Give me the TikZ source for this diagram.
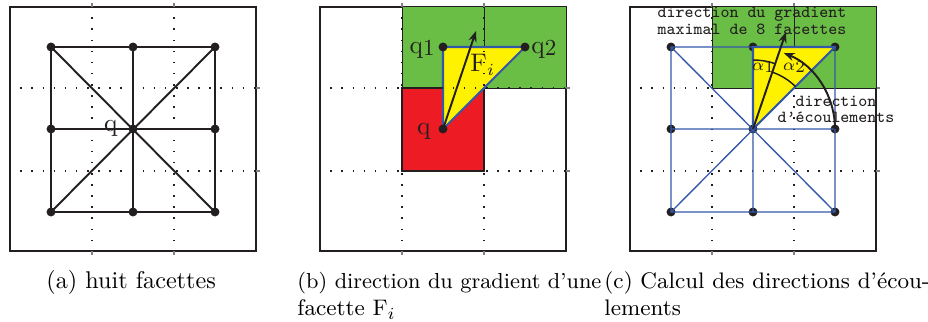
\documentclass[tikz,border=0pt]{standalone}
\usetikzlibrary{arrows.meta}
\definecolor{ink}{RGB}{35,31,32}
\definecolor{fgreen}{RGB}{106,189,69}
\definecolor{fred}{RGB}{237,28,36}
\definecolor{fyellow}{RGB}{255,242,0}
\definecolor{fblue}{RGB}{52,88,168}
\begin{document}
\begin{tikzpicture}[x=0.4137pt,y=-0.4137pt,
  frame/.style={draw=ink,line width=0.9pt},
  dotline/.style={draw=ink,line width=0.65pt,dash pattern=on 0.65pt off 3.95pt,dash phase=0.33pt},
  tick/.style={draw=gray,line width=0.5pt},
  grid/.style={draw=ink,line width=0.8pt},
  bgrid/.style={draw=fblue,line width=0.55pt},
  btri/.style={draw=fblue,line width=0.85pt,line join=round},
  gbox/.style={draw=ink,line width=0.4pt,fill=fgreen},
  rbox/.style={draw=ink,line width=0.9pt,fill=fred},
  pt/.style={circle,fill=ink,inner sep=0pt,minimum size=3.7pt},
  arr/.style={draw=ink,line width=0.8pt,-{Stealth[length=4.5pt,width=3.4pt]}},
  arcl/.style={draw=ink,line width=0.6pt},
  lab/.style={font=\fontsize{10.5}{12}\selectfont,inner sep=0pt,text=ink},
  alab/.style={font=\fontsize{7}{8}\selectfont,inner sep=0pt,text=ink},
  tt/.style={font=\ttfamily\fontsize{7}{#1}\selectfont,text=ink,align=center,inner sep=0pt},
  captext/.style={font=\fontsize{9.3}{11}\selectfont,anchor=base west,inner sep=0pt},
]
\useasboundingbox (0,0) rectangle (928,322);
\fill[white] (0,0) rectangle (928,322);

\foreach \i/\x in {0/51,1/133,2/215}{\foreach \j/\y in {0/47,1/129,2/212}{
  \coordinate (a\i\j) at (\x,\y);
  \coordinate (b\i\j) at (\x+310,\y);
  \coordinate (c\i\j) at (\x+620,\y);}}

% ---------- panel (a)
\draw[frame] (10,7) rectangle (256,251);
\foreach \x in {92,174}{\draw[dotline] (\x,7)--(\x,251); \draw[tick] (\x,3)--(\x,7) (\x,251)--(\x,255);}
\foreach \y in {88,171}{\draw[dotline] (10,\y)--(256,\y); \draw[tick] (256,\y)--(260,\y);}
\draw[grid] (a00)--(a20)--(a22)--(a02)--cycle (a01)--(a21) (a10)--(a12) (a00)--(a22) (a20)--(a02);
\foreach \i in {0,1,2}{\foreach \j in {0,1,2}{\node[pt] (da\i\j) at (a\i\j) {};}}
\node[lab,anchor=base east] (qa) at (118,132) {q};

% ---------- panel (b)
\draw[frame] (320,7) rectangle (566,251);
\draw[gbox] (402,6) rectangle (484,88);
\draw[gbox] (484,6) rectangle (566,88);
\draw[rbox] (402,88) rectangle (484,171);
\draw[btri,fill=fyellow] (b11)--(b10)--(b20)--cycle;
\foreach \x in {402,484}{\draw[dotline] (\x,7)--(\x,251); \draw[tick] (\x,3)--(\x,7) (\x,251)--(\x,255);}
\foreach \y in {88,171}{\draw[dotline] (320,\y)--(566,\y); \draw[tick] (566,\y)--(570,\y);}
\coordinate (btip) at (476,31);
\draw[arr] (b11)--(btip);
\node[pt] (db11) at (b11) {};
\node[pt] (db10) at (b10) {};
\node[pt] (db20) at (b20) {};
\node[lab,anchor=base east] (lq) at (431,135) {q};
\node[lab,anchor=base east] (lq1) at (435,54) {q\raisebox{-0.8pt}{\fontsize{9.5}{9.5}\selectfont 1}};
\node[lab,anchor=base west] (lq2) at (531,54) {q\raisebox{-0.8pt}{\fontsize{9.5}{9.5}\selectfont 2}};
\node[lab,anchor=base west] (lF) at (470,72) {F$_i$};

% ---------- panel (c)
\draw[frame] (630,7) rectangle (876,251);
\foreach \x in {712,794}{\draw[dotline] (\x,7)--(\x,251); \draw[tick] (\x,3)--(\x,7) (\x,251)--(\x,255);}
\foreach \y in {88,171}{\draw[dotline] (630,\y)--(876,\y); \draw[tick] (876,\y)--(880,\y);}
\draw[gbox] (712,6) rectangle (794,88);
\draw[gbox] (794,6) rectangle (876,88);
\foreach \i in {0,1,2}{\foreach \j in {0,1,2}{\node[pt] (dc\i\j) at (c\i\j) {};}}
\fill[fyellow] (c11)--(c10)--(c20)--cycle;
\draw[bgrid] (c00)--(c20)--(c22)--(c02)--cycle (c01)--(c21) (c10)--(c12) (c00)--(c22) (c20)--(c02);
\draw[btri] (c11)--(c10)--(c20)--cycle;
\coordinate (ctip) at (786,32);
\draw[arr] (c11)--(ctip);
\draw[arcl] (c11) ++(-90:69) arc[start angle=-90,end angle=-71,radius=69];
\draw[arcl] (c11) ++(-71:60) arc[start angle=-71,end angle=-45,radius=60];
\draw[arr] (c21) arc[start angle=0,end angle=-68,radius=82];
\node[alab] (al1) at (763,67) {$\alpha$\raisebox{-1pt}{1}};
\node[alab] (al2) at (794,67) {$\alpha$\raisebox{-1pt}{2}};
\node[tt=5.6pt] (tgrad) at (752,21) {direction du gradient\\maximal de 8 facettes};
\node[tt=6.6pt] (tecoul) at (836,109) {direction\\d’écoulements};

% ---------- captions
\node[captext,font=\fontsize{10}{12}\selectfont] (capa) at (46,289) {(a) huit facettes};
\node[captext,font=\fontsize{9}{11}\selectfont] (capb1) at (297,289) {(b) direction du gradient d’une};
\node[captext] (capb2) at (297,316) {facette F$_i$};
\node[captext] (capc1) at (604,289) {(c) Calcul des directions d’écou-};
\node[captext] (capc2) at (604,316) {lements};
\end{tikzpicture}
\end{document}
